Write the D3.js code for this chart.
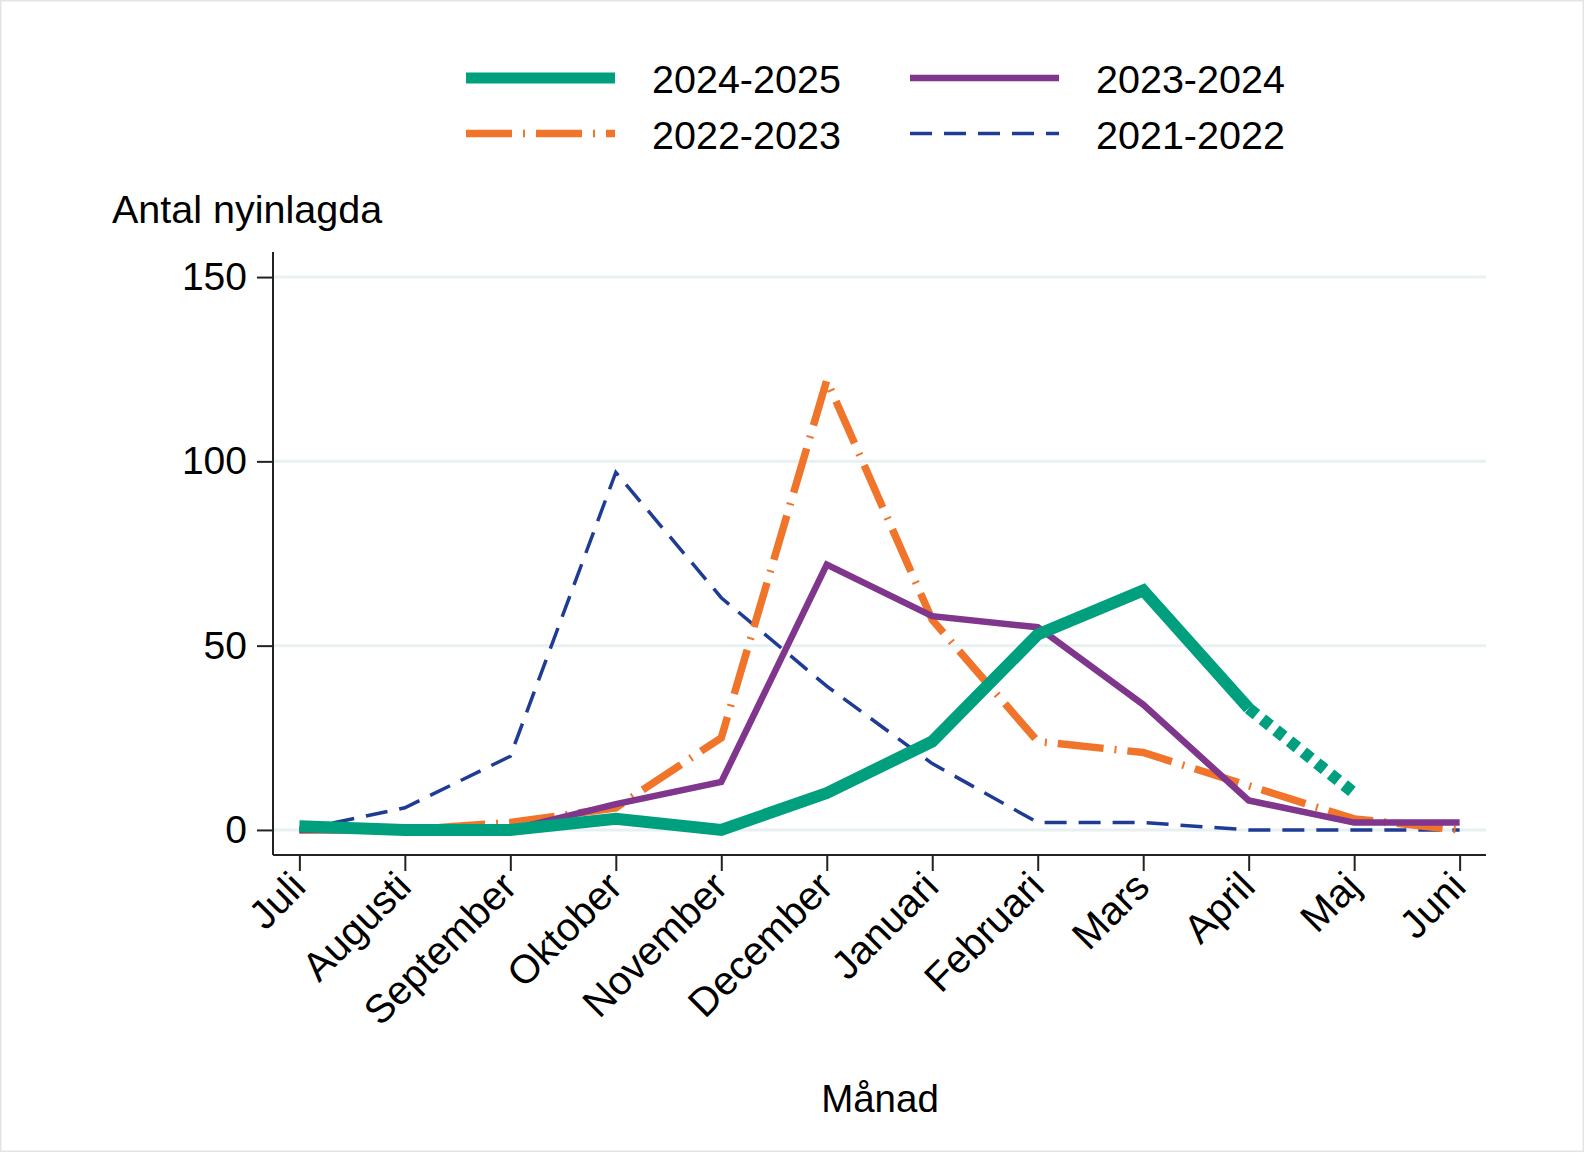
<!DOCTYPE html>
<html>
<head>
<meta charset="utf-8">
<script src="https://cdn.jsdelivr.net/npm/d3@7.9.0/dist/d3.min.js"></script>
<style>
  html, body { margin: 0; padding: 0; background: #fff; }
  svg text { font-family: "Liberation Sans", Arial, sans-serif; fill: #000; }
</style>
</head>
<body>
<svg id="chart" width="1584" height="1152"></svg>
<script>
const months = ['Juli', 'Augusti', 'September', 'Oktober', 'November', 'December',
                'Januari', 'Februari', 'Mars', 'April', 'Maj', 'Juni'];
const yTicks = [0, 50, 100, 150];

// antal nyinlagda per månad och säsong
const s2024_2025 = [1, 0, 0, 3, 0, 10, 24, 53, 65, 33, 10, null];
const s2023_2024 = [0, 0, 0, 7, 13, 72, 58, 55, 34, 8, 2, 2];
const s2022_2023 = [0, 0, 2, 6, 25, 122, 57, 24, 21, 12, 3, 0];
const s2021_2022 = [0, 6, 20, 97, 63, 39, 18, 2, 2, 0, 0, 0];
// months of 2024-2025 that are still preliminary (drawn dotted)
const preliminary = ['April', 'Maj'];

const seasons = [
    { label: '2021-2022', values: s2021_2022, color: '#1f3c94', width: 3.5, dash: '22 12' },
    { label: '2022-2023', values: s2022_2023, color: '#f0752a', width: 7.5, dash: '46 11 2 11' },
    { label: '2023-2024', values: s2023_2024, color: '#7f368c', width: 6.5, dash: null },
    { label: '2024-2025', values: s2024_2025, color: '#00a07f', width: 12, dash: null }
];

const svg = d3.select('#chart');

svg.append('rect')
    .attr('x', 0.75).attr('y', 0.75)
    .attr('width', 1582.5).attr('height', 1150.5)
    .attr('fill', '#fff')
    .attr('stroke', '#e4e4e4')
    .attr('stroke-width', 1.5);

let x = d3.scalePoint().domain(months).range([273, 1486]).padding(0.25);
let y = d3.scaleLinear().domain([-6.8, 156.8]).range([855, 252]);

// gridlines
svg.append('g')
    .selectAll('line')
    .data(yTicks)
    .join('line')
    .attr('x1', 273).attr('x2', 1486)
    .attr('y1', d => y(d)).attr('y2', d => y(d))
    .attr('stroke', '#e9f0f1')
    .attr('stroke-width', 3);

// y axis
let yAxis = svg.append('g')
    .attr('transform', 'translate(273,0)')
    .call(d3.axisLeft(y).tickValues(yTicks).tickSize(16).tickPadding(10));
yAxis.select('.domain').attr('d', `M0,${y.range()[1]}V${y.range()[0]}`);
yAxis.selectAll('.domain, .tick line').attr('stroke', '#222').attr('stroke-width', 2);
yAxis.selectAll('.tick text')
    .attr('font-size', 39)
    .attr('fill', '#000');

// x axis
let xAxis = svg.append('g')
    .attr('transform', 'translate(0,855)')
    .call(d3.axisBottom(x).tickSize(16).tickSizeOuter(0));
xAxis.select('.domain').attr('d', `M${x.range()[0]},0H${x.range()[1]}`);
xAxis.selectAll('.domain, .tick line').attr('stroke', '#222').attr('stroke-width', 2);
xAxis.selectAll('.tick text')
    .attr('font-size', 40)
    .attr('fill', '#000')
    .attr('text-anchor', 'end')
    .attr('dy', null)
    .attr('y', 0)
    .attr('transform', 'translate(8,34) rotate(-45)');

// lines
let line = d3.line()
    .defined(d => d.v !== null)
    .x(d => x(d.m))
    .y(d => y(d.v));

seasons.forEach(s => {
    let pts = months.map((m, i) => ({ m: m, v: s.values[i] }));
    let solid = s.label === '2024-2025'
        ? pts.map(d => (preliminary.indexOf(d.m) > 0 ? { m: d.m, v: null } : d))
        : pts;
    svg.append('path')
        .attr('d', line(solid))
        .attr('fill', 'none')
        .attr('stroke', s.color)
        .attr('stroke-width', s.width)
        .attr('stroke-dasharray', s.dash);
    if (s.label === '2024-2025') {
        let prelim = pts.filter(d => preliminary.includes(d.m));
        svg.append('path')
            .attr('d', line(prelim))
            .attr('fill', 'none')
            .attr('stroke', s.color)
            .attr('stroke-width', s.width)
            .attr('stroke-dasharray', '10 7.5');
    }
});

// legend
const legendOrder = ['2024-2025', '2023-2024', '2022-2023', '2021-2022'];
let legend = svg.append('g');
legendOrder.forEach((lab, i) => {
    let s = seasons.find(d => d.label === lab);
    let col = i % 2, row = Math.floor(i / 2);
    let lx = 466 + col * 444, ly = 78 + row * 55.5;
    legend.append('line')
        .attr('x1', lx).attr('x2', lx + 149)
        .attr('y1', ly).attr('y2', ly)
        .attr('stroke', s.color)
        .attr('stroke-width', lab === '2024-2025' ? 11 : s.width)
        .attr('stroke-dasharray', s.dash);
    legend.append('text')
        .attr('x', lx + 186)
        .attr('y', ly + 15)
        .attr('font-size', 39.5)
        .text(lab);
});

svg.append('text')
    .attr('x', 112).attr('y', 223)
    .attr('font-size', 39.5)
    .text('Antal nyinlagda');

svg.append('text')
    .attr('x', 880).attr('y', 1112)
    .attr('text-anchor', 'middle')
    .attr('font-size', 38.5)
    .text('Månad');
</script>
</body>
</html>
